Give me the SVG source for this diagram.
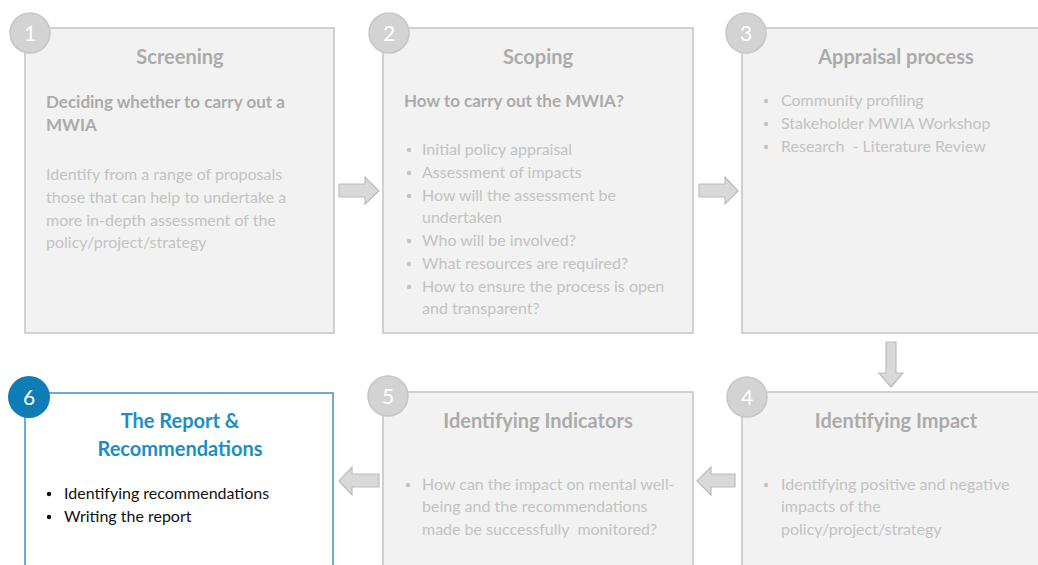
<svg xmlns="http://www.w3.org/2000/svg" width="1038" height="565" viewBox="0 0 1038 565">
  <style>
    .box { fill: #f2f2f2; stroke: #c3c3c3; stroke-width: 1.5; }
    .box-active { fill: #ffffff; stroke: #3a92c4; stroke-width: 1.5; }
    .badge { fill: #d3d3d3; stroke: #c6c6c6; stroke-width: 1.5; }
    .badge-active { fill: #0e7cb6; }
    .num { font-family: Lato, "Liberation Sans", sans-serif; font-size: 21px; fill: #ffffff; text-anchor: middle; }
    .title { font-family: Lato, "Liberation Sans", sans-serif; font-size: 20px; font-weight: bold; fill: #ababab; text-anchor: middle; }
    .title-active { font-family: Lato, "Liberation Sans", sans-serif; font-size: 20px; font-weight: bold; fill: #1b8fc4; text-anchor: middle; }
    .sub { font-family: Lato, "Liberation Sans", sans-serif; font-size: 17px; font-weight: bold; fill: #ababab; }
    .body { font-family: Lato, "Liberation Sans", sans-serif; font-size: 16px; fill: #c3c3c3; }
    .body-active { font-family: Lato, "Liberation Sans", sans-serif; font-size: 16px; fill: #111111; }
    .dot { fill: #c3c3c3; }
    .dot-active { fill: #111111; }
    .arrow { fill: #d9d9d9; stroke: #bdbdbd; stroke-width: 1.2; }
  </style>

  <!-- Step 1 -->
  <g id="step1">
    <rect class="box" x="25" y="28" width="309" height="305"/>
    <circle class="badge" cx="30" cy="33" r="20"/>
    <text class="num" x="30" y="41">1</text>
    <text class="title" x="180" y="64">Screening</text>
    <text class="sub" x="46" y="108">Deciding whether to carry out a</text>
    <text class="sub" x="46" y="131">MWIA</text>
    <text class="body" x="46" y="180">Identify from a range of proposals</text>
    <text class="body" x="46" y="203">those that can help to undertake a</text>
    <text class="body" x="46" y="226">more in-depth assessment of the</text>
    <text class="body" x="46" y="248">policy/project/strategy</text>
  </g>

  <!-- Step 2 -->
  <g id="step2">
    <rect class="box" x="383" y="28" width="310" height="305"/>
    <circle class="badge" cx="389" cy="33" r="20"/>
    <text class="num" x="389" y="41">2</text>
    <text class="title" x="538" y="64">Scoping</text>
    <text class="sub" x="404" y="107">How to carry out the MWIA?</text>
    <circle class="dot" cx="409" cy="150" r="2.2"/>
    <text class="body" x="422" y="155">Initial policy appraisal</text>
    <circle class="dot" cx="409" cy="173" r="2.2"/>
    <text class="body" x="422" y="178">Assessment of impacts</text>
    <circle class="dot" cx="409" cy="196" r="2.2"/>
    <text class="body" x="422" y="201">How will the assessment be</text>
    <text class="body" x="422" y="223">undertaken</text>
    <circle class="dot" cx="409" cy="241" r="2.2"/>
    <text class="body" x="422" y="246">Who will be involved?</text>
    <circle class="dot" cx="409" cy="264" r="2.2"/>
    <text class="body" x="422" y="269">What resources are required?</text>
    <circle class="dot" cx="409" cy="287" r="2.2"/>
    <text class="body" x="422" y="292">How to ensure the process is open</text>
    <text class="body" x="422" y="314">and transparent?</text>
  </g>

  <!-- Step 3 -->
  <g id="step3">
    <rect class="box" x="742" y="28" width="310" height="305"/>
    <circle class="badge" cx="746" cy="33" r="20"/>
    <text class="num" x="746" y="41">3</text>
    <text class="title" x="896" y="64">Appraisal process</text>
    <circle class="dot" cx="766" cy="101" r="2.2"/>
    <text class="body" x="781" y="106">Community profiling</text>
    <circle class="dot" cx="766" cy="124" r="2.2"/>
    <text class="body" x="781" y="129">Stakeholder MWIA Workshop</text>
    <circle class="dot" cx="766" cy="147" r="2.2"/>
    <text class="body" x="781" y="152" xml:space="preserve">Research  - Literature Review</text>
  </g>

  <!-- Step 4 -->
  <g id="step4">
    <rect class="box" x="742" y="392" width="310" height="190"/>
    <circle class="badge" cx="747" cy="397" r="20"/>
    <text class="num" x="747" y="405">4</text>
    <text class="title" x="896" y="428">Identifying Impact</text>
    <circle class="dot" cx="766" cy="485" r="2.2"/>
    <text class="body" x="781" y="490">Identifying positive and negative</text>
    <text class="body" x="781" y="512">impacts of the</text>
    <text class="body" x="781" y="535">policy/project/strategy</text>
  </g>

  <!-- Step 5 -->
  <g id="step5">
    <rect class="box" x="383" y="392" width="310" height="190"/>
    <circle class="badge" cx="388" cy="396" r="20"/>
    <text class="num" x="388" y="404">5</text>
    <text class="title" x="538" y="428">Identifying Indicators</text>
    <circle class="dot" cx="408" cy="485" r="2.2"/>
    <text class="body" x="422" y="490">How can the impact on mental well-</text>
    <text class="body" x="422" y="512">being and the recommendations</text>
    <text class="body" x="422" y="535" xml:space="preserve">made be successfully  monitored?</text>
  </g>

  <!-- Step 6 (current step) -->
  <g id="step6">
    <rect class="box-active" x="25" y="393" width="308" height="190"/>
    <circle class="badge-active" cx="29" cy="397" r="21"/>
    <text class="num" x="29" y="405">6</text>
    <text class="title-active" x="180" y="428">The Report &amp;</text>
    <text class="title-active" x="180" y="456">Recommendations</text>
    <circle class="dot-active" cx="49" cy="494" r="2.2"/>
    <text class="body-active" x="64" y="499">Identifying recommendations</text>
    <circle class="dot-active" cx="49" cy="517" r="2.2"/>
    <text class="body-active" x="64" y="522">Writing the report</text>
  </g>

  <!-- Block arrows between steps -->
  <g id="connectors">
    <polygon class="arrow" points="339,184 365,184 365,177 379,191 365,204 365,197 339,197"/>
    <polygon class="arrow" points="699,184 725,184 725,177 738,191 725,204 725,197 699,197"/>
    <polygon class="arrow" points="886,342 896,342 896,373 903,373 891,387 879,373 886,373"/>
    <polygon class="arrow" points="735,474 711,474 711,467 697,481 711,495 711,487 735,487"/>
    <polygon class="arrow" points="379,474 352,474 352,467 339,481 352,495 352,487 379,487"/>
  </g>
</svg>
